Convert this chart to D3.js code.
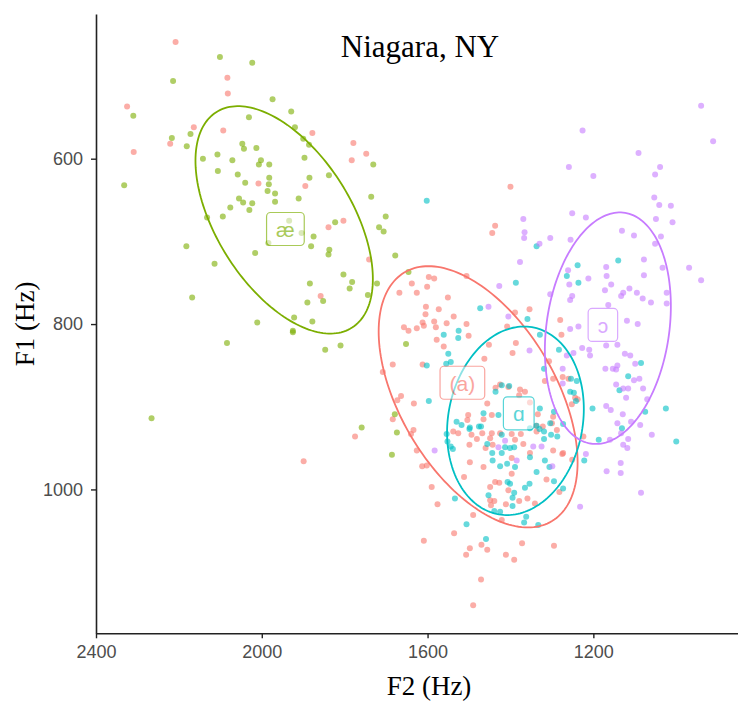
<!DOCTYPE html>
<html>
<head>
<meta charset="utf-8">
<script src="https://cdn.jsdelivr.net/npm/d3@7"></script>
<style>
  html, body { margin: 0; padding: 0; background: #fff; }
  svg { display: block; }
</style>
</head>
<body>
<svg id="chart" width="738" height="707"></svg>
<script>
// Axis ticks
const xTicks = [2400, 2000, 1600, 1200];
const yTicks = [600, 800, 1000];

// Vowel categories and their colours
const vowels = ["(a)", "æ", "ɑ", "ɔ"];
const vowelColors = ["#F8766D", "#7CAE00", "#00BFC4", "#C77CFF"];

// Tokens per vowel: [F2, F1] in Hz
const aTokens = [
  [2208,459],[2083,502],[2082,521],[2325,537],[2164,562],[2093,566],[1878,569],[2221,582],[2309,592],[1779,581],
  [1748,594],[1783,602],[2008,630],[1895,633],[1839,683],[1803,675],[1858,766],[1741,722],[1899,966],[1775,936],
  [1400,634],[1437,681],[1444,690],[1506,742],
  [1597,743],[1584,745],[1638,751],[1601,755],[1668,762],[1626,762],[1551,768],[1604,779],[1573,782],[1605,788],
  [1537,791],[1657,804],[1646,808],[1626,805],[1612,798],[1609,802],[1584,797],[1580,804],[1554,799],[1506,800],
  [1501,814],[1578,819],[1561,827],[1684,849],[1708,858],[1612,849],[1389,786],[1408,803],[1387,823],[1395,835],
  [1280,795],[1277,813],[1307,845],[1463,842],[1452,825],[1354,782],[1664,887],[1633,896],[1684,915],[1673,892],
  [1634,928],[1626,953],[1297,866],[1274,864],[1260,866],[1436,877],[1425,873],[1377,879],[1365,882],[1379,886],
  [1405,876],[1353,895],[1252,897],[1244,889],[1238,891],[1502,910],[1504,916],[1456,896],[1445,910],[1465,915],
  [1468,932],[1445,932],[1425,932],[1494,934],[1538,930],[1526,932],[1334,909],[1297,912],[1288,928],[1337,930],
  [1375,933],[1338,923],[1322,924],[1300,920],[1481,939],[1389,940],[1369,945],[1297,953],[1275,957],[1251,964],
  [1317,869],[1465,973],[1498,967],[1512,985],[1449,997],[1437,991],[1224,936],[1273,956],[1499,946],[1397,933],
  [1449,938],[1460,950],[1443,946],[1397,962],[1353,956],[1397,981],[1590,997],[1427,992],[1405,1001],[1449,1013],
  [1439,1014],[1447,1019],[1411,1018],[1379,1014],[1359,1011],[1341,1017],[1313,988],[1282,1003],[1576,1018],[1490,1031],
  [1421,1037],[1536,1053],[1498,1071],[1507,1079],[1470,1067],[1456,1073],[1411,1079],[1391,1085],[1372,1065],[1295,1068],
  [1471,1109],[1490,1140],[1609,1062],[1613,972],[1602,971],[1640,933]
];

const aeTokens = [
  [2101,477],[2023,484],[2214,506],[1974,528],[1929,543],[2310,548],[2031,550],[1920,562],[2172,570],[2217,575],
  [1900,576],[2181,585],[1886,583],[2047,582],[2043,588],[2013,587],[1731,607],[1897,599],[2142,600],[2107,595],
  [2071,602],[2002,602],[2007,607],[1982,607],[2106,615],[2058,619],[1885,623],[1838,620],[2332,632],[2040,629],
  [1982,623],[1983,631],[1986,639],[1968,642],[1736,646],[2055,648],[2045,653],[2023,654],[2030,662],[1968,652],
  [1911,648],[2076,659],[2094,670],[2132,671],[1701,670],[1823,677],[1717,683],[1706,688],[1875,694],[1881,706],
  [1837,710],[1839,716],[2016,714],[2182,706],[1678,717],[2114,727],[1803,740],[1782,749],[1788,757],[1722,751],
  [1884,751],[2168,768],[1890,774],[1852,772],[1744,765],[1646,737],[2011,798],[1922,792],[1925,808],[1925,810],
  [1878,797],[2084,823],[1847,831],[1810,826],[1652,824],[2266,914],[1679,909],[1759,925],[1674,931],[1686,958],
  [1934,675],[1904,690],[1984,702]
];

const alphaTokens = [
  [1602,651],[1337,706],[1387,750],[1238,729],[1264,742],[1236,750],[1473,781],[1525,808],[1526,817],[1561,813],
  [1359,794],[1329,813],[1550,836],[1555,848],[1544,846],[1602,850],[1283,831],[1319,854],[1240,869],[1597,893],
  [1140,723],[1085,847],[1116,863],[1137,880],[1202,902],[1025,902],[1000,942],[1187,940],[1131,926],[1075,906],
  [1222,965],[1247,883],[1254,866],[1273,999],[1421,874],[1403,875],[1436,882],[1329,902],[1295,906],[1256,882],
  [1242,893],[1273,921],[1304,920],[1465,908],[1429,910],[1471,924],[1518,922],[1554,933],[1530,918],[1498,925],
  [1421,934],[1337,923],[1319,930],[1544,948],[1552,942],[1539,951],[1499,927],[1476,924],[1456,945],[1444,956],
  [1421,956],[1413,949],[1401,950],[1391,949],[1425,972],[1443,965],[1408,969],[1389,973],[1353,961],[1337,979],
  [1319,939],[1302,934],[1287,936],[1353,926],[1330,927],[1317,965],[1306,973],[1295,990],[1407,991],[1401,993],
  [1354,993],[1365,998],[1391,1004],[1395,1010],[1395,1020],[1453,1007],[1439,1026],[1425,1027],[1362,1033],[1367,1040],
  [1333,1043],[1534,1011],[1506,1042],[1459,1060]
];

const openOTokens = [
  [940,536],[911,579],[1226,566],[1091,593],[1259,610],[1200,621],[1051,619],[1039,610],[1053,647],[1041,656],
  [1013,657],[1049,673],[1009,677],[1369,673],[1366,689],[1367,696],[1251,666],[1218,671],[1304,696],[1255,698],
  [1131,687],[1102,693],[1037,694],[1051,703],[1330,703],[1377,725],[1169,731],[1078,722],[1078,741],[1033,732],
  [969,732],[940,747],[1168,742],[1157,752],[1212,745],[1261,735],[1258,752],[1172,759],[1113,757],[1095,762],
  [1081,769],[1061,774],[1023,762],[1023,775],[1304,764],[1251,766],[1256,771],[1427,754],[1453,779],[1354,832],
  [1256,806],[1236,803],[1128,762],[1133,766],[1164,777],[1119,796],[1093,800],[1169,826],[1142,825],[1227,829],
  [1210,831],[1208,838],[1264,838],[1248,835],[1124,836],[1111,838],[1099,848],[1142,850],[1171,854],[1153,854],
  [1145,855],[1102,868],[1089,866],[1145,873],[1128,878],[1116,878],[1080,878],[1121,889],[1070,891],[1274,854],
  [1274,872],[1169,899],[1158,904],[1129,909],[1142,920],[1109,918],[1087,922],[1059,934],[1133,932],[1116,939],
  [1128,946],[1118,950],[1160,940],[1218,957],[1134,968],[1168,978],[1134,980],[1085,1004],[1583,953],[1429,949],
  [1345,948],[1325,948],[1385,965],[1299,972],[1232,1021],[1413,941],[1405,791]
];

// 95% ellipse per vowel: centre, half-extent along each formant, F2/F1 correlation
const ellipseCentreF2 = [1478, 1946, 1388, 1165];
const ellipseCentreF1 = [888, 674, 917, 805];
const ellipseHalfF2   = [240, 214, 165, 152];
const ellipseHalfF1   = [158, 137.5, 114, 140];
const ellipseCorr     = [-0.50, -0.52, 0.125, 0.19];

// Vowel label anchors (group means)
const labelF2 = [1516, 1943, 1380, 1177];
const labelF1 = [871, 685, 908, 801];

const tokenSets = [aTokens, aeTokens, alphaTokens, openOTokens];

const svg = d3.select("#chart");
const W = 738, H = 707;
svg.append("rect").attr("width", W).attr("height", H).attr("fill", "#fff");

// F2 and F1 both run reversed, as is usual for a vowel chart
const x = d3.scaleLinear().domain([2400, 851]).range([96, 738]);
const y = d3.scaleLinear().domain([425, 1174]).range([14, 633.3]);

// Tokens
tokenSets.forEach((pts, i) => {
  svg.append("g")
    .selectAll("circle")
    .data(pts)
    .join("circle")
    .attr("cx", d => x(d[0]))
    .attr("cy", d => y(d[1]))
    .attr("r", 3)
    .attr("fill", vowelColors[i])
    .attr("fill-opacity", 0.6);
});

// Ellipses
const ellipseLine = d3.line()
  .x(d => x(d[0]))
  .y(d => y(d[1]))
  .curve(d3.curveLinearClosed);

vowels.forEach((v, i) => {
  const r = ellipseCorr[i];
  const pts = d3.range(0, 180).map(k => {
    const t = k / 180 * 2 * Math.PI;
    return [
      ellipseCentreF2[i] + ellipseHalfF2[i] * Math.cos(t),
      ellipseCentreF1[i] + ellipseHalfF1[i] * (r * Math.cos(t) + Math.sqrt(1 - r * r) * Math.sin(t))
    ];
  });
  svg.append("path")
    .attr("d", ellipseLine(pts))
    .attr("fill", "none")
    .attr("stroke", vowelColors[i])
    .attr("stroke-width", 1.8);
});

// Vowel labels in rounded boxes
vowels.forEach((v, i) => {
  const cx = x(labelF2[i]), cy = y(labelF1[i]);
  const g = svg.append("g").attr("opacity", 0.65);
  const rect = g.append("rect");
  const t = g.append("text")
    .attr("x", cx)
    .attr("y", cy)
    .attr("dy", "0.38em")
    .attr("text-anchor", "middle")
    .attr("font-family", "'Liberation Sans', Arial, 'DejaVu Sans', sans-serif")
    .attr("font-size", 21)
    .attr("fill", vowelColors[i])
    .text(v);
  const tw = t.node().getComputedTextLength();
  const bw = tw + 19, bh = 33;
  rect.attr("x", cx - bw / 2)
    .attr("y", cy - bh / 2)
    .attr("width", bw)
    .attr("height", bh)
    .attr("rx", 4)
    .attr("fill", "#fff")
    .attr("fill-opacity", 0.85)
    .attr("stroke", vowelColors[i])
    .attr("stroke-width", 1.2);
});

// Axes
const axisColor = "#222";
const tickFont = "'Liberation Sans', Arial, sans-serif";

const gx = svg.append("g")
  .attr("transform", `translate(0,${y.range()[1]})`)
  .call(d3.axisBottom(x).tickValues(xTicks).tickFormat(d3.format("d")).tickSize(5).tickSizeOuter(0).tickPadding(7));
const gy = svg.append("g")
  .attr("transform", `translate(${x.range()[0]},0)`)
  .call(d3.axisLeft(y).tickValues(yTicks).tickFormat(d3.format("d")).tickSize(5).tickSizeOuter(0).tickPadding(8));

[gx, gy].forEach(g => {
  g.select(".domain").attr("stroke", axisColor).attr("stroke-width", 1.6);
  g.selectAll(".tick line").attr("stroke", axisColor).attr("stroke-width", 1.4);
  g.selectAll(".tick text")
    .attr("fill", "#4d4d4d")
    .attr("font-size", 18)
    .attr("font-family", tickFont);
});

// Titles
const serif = "'Liberation Serif', 'Times New Roman', serif";
svg.append("text")
  .attr("x", 420).attr("y", 57)
  .attr("text-anchor", "middle")
  .attr("font-family", serif)
  .attr("font-size", 31)
  .attr("fill", "#000")
  .text("Niagara, NY");

svg.append("text")
  .attr("x", 429).attr("y", 695)
  .attr("text-anchor", "middle")
  .attr("font-family", serif)
  .attr("font-size", 27)
  .attr("fill", "#000")
  .text("F2 (Hz)");

svg.append("text")
  .attr("transform", "translate(33.5,324) rotate(-90)")
  .attr("text-anchor", "middle")
  .attr("font-family", serif)
  .attr("font-size", 27)
  .attr("fill", "#000")
  .text("F1 (Hz)");
</script>
</body>
</html>
